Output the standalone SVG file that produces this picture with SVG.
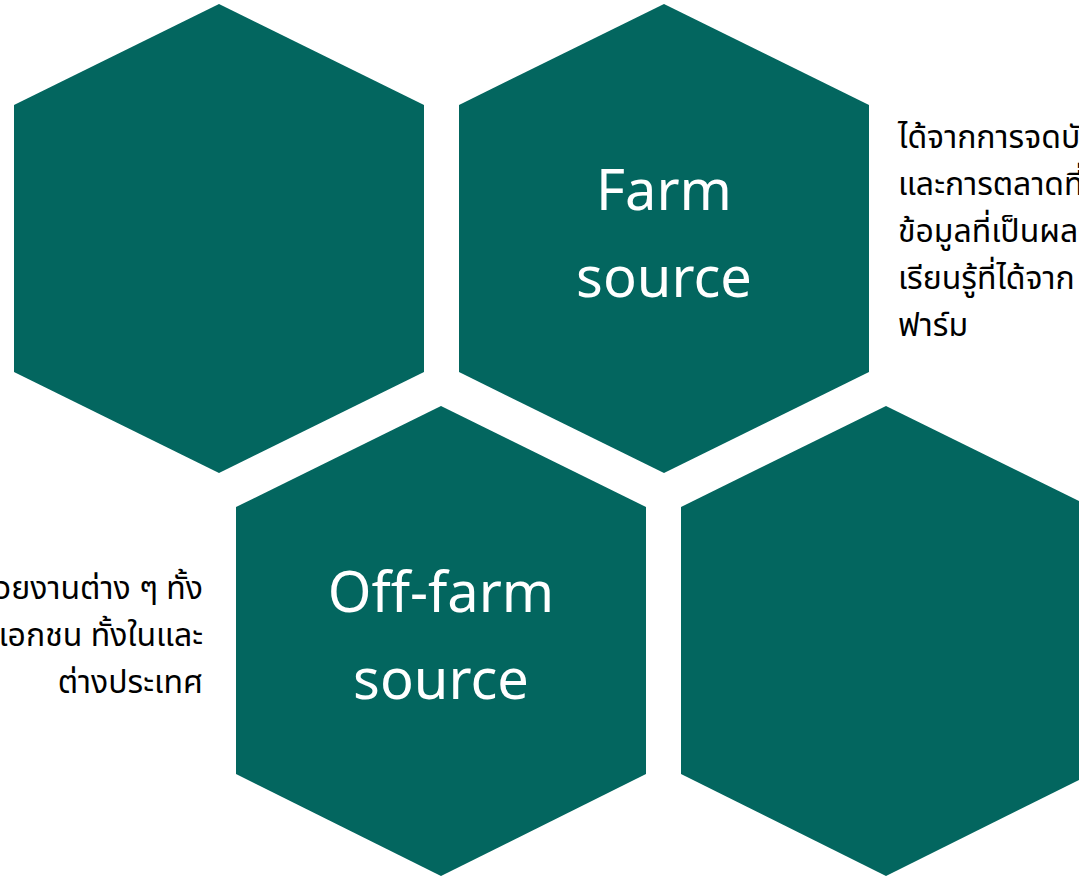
<svg xmlns="http://www.w3.org/2000/svg" width="1079" height="876" viewBox="0 0 1079 876">
<style>
.hex{fill:#03665F}
.lbl{font-family:"Noto Sans","Open Sans",sans-serif;font-size:56px;fill:#ffffff;text-anchor:middle}
.desc{font-family:"Noto Sans","Noto Sans Thai","Loma","Garuda",sans-serif;font-size:32px;fill:#000000}
</style>
<rect width="1079" height="876" fill="#ffffff"/>
<g id="hex-top-left">
<polygon class="hex" points="219,4 424,105 424,372 219,473 14,372 14,105"/>
</g>
<g id="hex-farm">
<polygon class="hex" points="664,4 869,105 869,372 664,473 459,372 459,105"/>
<text class="lbl" x="664" y="210">Farm</text>
<text class="lbl" x="664" y="297">source</text>
</g>
<g id="hex-offfarm">
<polygon class="hex" points="441,406 646,507 646,774 441,876 236,774 236,507"/>
<text class="lbl" x="441" y="612">Off-farm</text>
<text class="lbl" x="441" y="699">source</text>
</g>
<g id="hex-bottom-right">
<polygon class="hex" points="886,406 1091,507 1091,774 886,876 681,774 681,507"/>
</g>
<g id="text-farm">
<text class="desc" x="898" y="148">ได้จากการจดบั</text>
<text class="desc" x="898" y="195">และการตลาดที่</text>
<text class="desc" x="898" y="242">ข้อมูลที่เป็นผล</text>
<text class="desc" x="898" y="289">เรียนรู้ที่ได้จาก</text>
<text class="desc" x="898" y="336">ฟาร์ม</text>
</g>
<g id="text-offfarm" text-anchor="end">
<text class="desc" x="203" y="599">วยงานต่าง ๆ ทั้ง</text>
<text class="desc" x="203" y="646">เอกชน ทั้งในและ</text>
<text class="desc" x="203" y="693">ต่างประเทศ</text>
</g>
<g id="connectors"/>
</svg>
